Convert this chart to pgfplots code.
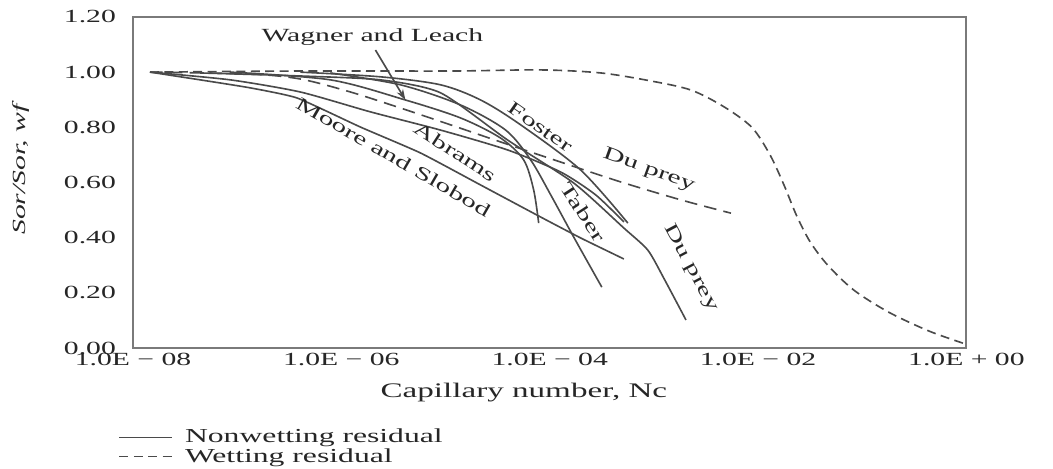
\documentclass[border=0pt]{standalone}
\usepackage{fontspec}
\setmainfont{Liberation Serif}[FakeStretch=1.6]
\usepackage{pgfplots}
\pgfplotsset{compat=1.18}
\usetikzlibrary{arrows.meta}
\newcommand{\myfont}{\fontsize{10.3}{12}\selectfont}
\newcommand{\labfont}{\fontsize{11.5}{13}\selectfont}
\newcommand{\legfont}{\fontsize{11}{13}\selectfont}
\definecolor{axgray}{HTML}{7A7A7A}
\definecolor{lngray}{HTML}{4A4A4A}
\definecolor{txgray}{HTML}{262626}

\begin{document}
\begin{tikzpicture}
\useasboundingbox (-73.9pt,-66.7pt) rectangle (511.1pt,193.4pt);
\begin{axis}[
  scale only axis, width=463pt, height=184pt,
  xmin=-8, xmax=0, ymin=0, ymax=1.2,
  xtick={-8,-6,-4,-2,0},
  xticklabels={1.0E − 08, 1.0E − 06, 1.0E − 04, 1.0E − 02, 1.0E + 00},
  ytick={0,0.2,0.4,0.6,0.8,1.0,1.2},
  yticklabels={0.00,0.20,0.40,0.60,0.80,1.00,1.20},
  major tick length=0pt,
  axis line style={draw=axgray, line width=1.1pt},
  tick label style={font=\myfont, text=txgray},
  xticklabel style={yshift=1pt},
  yticklabel style={xshift=-6pt},
  xlabel={Capillary number, Nc},
  ylabel={\textit{Sor/Sor, wf}},
  label style={text=txgray},
  xlabel style={font=\labfont, at={(axis description cs:0.469,-0.133)}, anchor=center},
  ylabel style={font=\myfont, at={(axis description cs:-0.134,0.544)}, anchor=center},
  legend style={at={(axis description cs:-0.024,-0.222)}, anchor=north west,
    draw=none, fill=none, font=\legfont, text=txgray, row sep=-2.5pt,
    nodes={inner xsep=7pt}},
  legend cell align=left,
  legend image code/.code={\draw[#1] (0pt,0pt) -- (29pt,0pt);},
  every axis plot/.append style={color=lngray, line width=0.9pt},
]
\addlegendimage{lngray, line width=0.8pt}
\addlegendentry{Nonwetting residual}
\addlegendimage{lngray, line width=0.8pt, dash pattern=on 5pt off 3pt}
\addlegendentry{Wetting residual}

% Moore and Slobod
\addplot[smooth, tension=0.3, forget plot] coordinates {
(-7.837,1.000) (-7.356,0.972) (-6.875,0.943) (-6.423,0.906) (-5.817,0.801)
(-5.240,0.707) (-4.663,0.591) (-4.087,0.475) (-3.702,0.399) (-3.288,0.323)};
% Abrams
\addplot[smooth, tension=0.4, forget plot] coordinates {
(-7.837,1.000) (-7.067,0.972) (-6.394,0.928) (-5.721,0.856) (-5.048,0.790)
(-4.404,0.718) (-3.894,0.638) (-3.558,0.555) (-3.288,0.457)};
% Wagner and Leach
\addplot[smooth, tension=0.5, forget plot] coordinates {
(-7.067,1.000) (-6.106,0.972) (-5.385,0.899) (-4.856,0.834) (-4.471,0.761)
(-4.250,0.682) (-4.154,0.573) (-4.106,0.453)};
% Taber
\addplot[smooth, tension=0.5, forget plot] coordinates {
(-6.106,0.997) (-5.433,0.954) (-4.856,0.881) (-4.423,0.790) (-4.183,0.682)
(-3.990,0.555) (-3.769,0.402) (-3.500,0.221)};
% Foster
\addplot[smooth, tension=0.5, forget plot] coordinates {
(-6.394,1.000) (-5.625,0.983) (-5.048,0.954) (-4.663,0.899) (-4.279,0.809)
(-3.702,0.645) (-3.250,0.453)};
% Du prey (nonwetting)
\addplot[smooth, tension=0.4, forget plot] coordinates {
(-7.356,0.997) (-6.394,0.986) (-5.625,0.972) (-5.048,0.925) (-4.404,0.754)
(-3.769,0.598) (-3.288,0.435) (-3.058,0.355) (-2.900,0.250) (-2.692,0.102)};
% Du prey (wetting)
\addplot[smooth, tension=0.5, dash pattern=on 7pt off 4pt, forget plot] coordinates {
(-7.837,1.000) (-6.875,0.993) (-6.394,0.975) (-5.913,0.928) (-5.433,0.870)
(-4.952,0.809) (-4.471,0.747) (-3.894,0.674) (-3.317,0.602) (-2.740,0.537)
(-2.260,0.489)};
% Wetting residual (large)
\addplot[smooth, tension=0.5, dash pattern=on 5pt off 3pt, forget plot] coordinates {
(-7.837,1.000) (-6.394,1.004) (-4.952,1.004) (-4.087,1.008) (-3.510,0.997)
(-3.029,0.968) (-2.644,0.935) (-2.330,0.875) (-2.060,0.800) (-1.885,0.700)
(-1.750,0.590) (-1.630,0.480) (-1.500,0.385) (-1.330,0.300) (-1.080,0.210)
(-0.745,0.130) (-0.360,0.062) (-0.010,0.015)};

\node[font=\myfont, text=txgray] at (axis cs:-5.702,1.128) {Wagner and Leach};
\draw[lngray, line width=0.9pt, -{Stealth[length=6pt,width=4pt]}] (axis cs:-5.673,1.08) -- (axis cs:-5.385,0.899);
\node[font=\myfont, text=txgray, rotate=-35] at (axis cs:-4.087,0.801) {Foster};
\node[font=\myfont, text=txgray, rotate=-20] at (axis cs:-3.048,0.645) {Du prey};
\node[font=\myfont, text=txgray, rotate=-33] at (axis cs:-4.904,0.711) {Abrams};
\node[font=\myfont, text=txgray, rotate=-30] at (axis cs:-5.500,0.693) {Moore and Slobod};
\node[font=\myfont, text=txgray, rotate=-57] at (axis cs:-3.683,0.493) {Taber};
\node[font=\myfont, text=txgray, rotate=-62] at (axis cs:-2.644,0.290) {Du prey};
\end{axis}
\end{tikzpicture}
\end{document}
